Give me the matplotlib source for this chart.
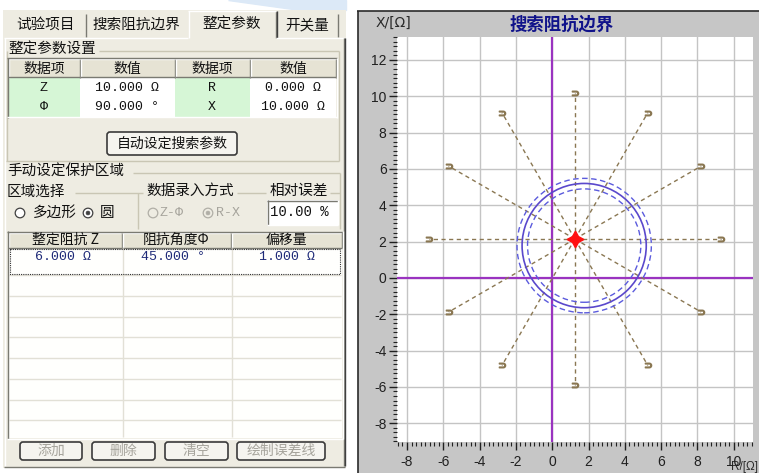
import matplotlib
matplotlib.use('Agg')
import matplotlib.pyplot as plt
import numpy as np
from matplotlib.patches import Rectangle, Circle, FancyBboxPatch
from matplotlib.ticker import MultipleLocator

W, H = 759, 473
CJK = ['Noto Sans CJK SC', 'DejaVu Sans']
MONO = ['Liberation Mono', 'DejaVu Sans Mono']
NUMF = ['Liberation Sans Narrow', 'Liberation Sans', 'DejaVu Sans']
plt.rcParams['font.family'] = CJK

# ---------------- data ----------------
tabs = ['试验项目', '搜索阻抗边界', '整定参数', '开关量']
param_headers = ['数据项', '数值', '数据项', '数值']
param_names_left = ['Z', 'Φ']
param_values_left = ['10.000 Ω', '90.000 °']
param_names_right = ['R', 'X']
param_values_right = ['0.000 Ω', '10.000 Ω']
auto_button = '自动设定搜索参数'
zone_group = '手动设定保护区域'
zone_headers = ['整定阻抗 Z', '阻抗角度Φ', '偏移量']
zone_z = [6.0]
zone_angle = [45.0]
zone_offset = [1.0]
relative_error = 10.00
bottom_buttons = ['添加', '删除', '清空', '绘制误差线']

chart_title = '搜索阻抗边界'
x_ticks = [-8, -6, -4, -2, 0, 2, 4, 6, 8, 10]
y_ticks = [-8, -6, -4, -2, 0, 2, 4, 6, 8, 10, 12]
circle_center = (1.76, 1.78)
circle_radius = 3.42
error_radii = [3.12, 3.70]
search_center = (1.25, 2.14)
search_length = 8.03
search_angles = [0, 30, 60, 90, 120, 150, 180, 210, 240, 270, 300, 330]

# ---------------- colours ----------------
PANEL = '#EEECE2'
HEAD = '#E6E3D4'
GREEN = '#D6F6D6'
DARK = '#7A7A72'
GROUP = '#C9C6B4'
GREYTXT = '#A6A49C'

fig = plt.figure(figsize=(W / 100, H / 100), dpi=100)
fig.patch.set_facecolor('white')
bg = fig.add_axes([0, 0, 1, 1])
bg.set_xlim(0, W)
bg.set_ylim(H, 0)
bg.axis('off')


def rect(x0, y0, x1, y1, fc='none', ec='none', lw=1.0, z=1, ls='-'):
    bg.add_patch(Rectangle((x0, y0), x1 - x0, y1 - y0, facecolor=fc,
                           edgecolor=ec, linewidth=lw, zorder=z, linestyle=ls))


def hl(y, x0, x1, c, lw=1.0, z=3, ls='-'):
    bg.plot([x0, x1], [y, y], color=c, lw=lw, zorder=z, ls=ls, solid_capstyle='butt')


def vl(x, y0, y1, c, lw=1.0, z=3, ls='-'):
    bg.plot([x, x], [y0, y1], color=c, lw=lw, zorder=z, ls=ls, solid_capstyle='butt')


def txt(x, y, s, size=10, color='#111111', ha='center', family=CJK, z=6, va='center', **kw):
    bg.text(x, y, s, fontsize=size, color=color, ha=ha, va=va,
            family=family, zorder=z, **kw)


def raised(x0, y0, x1, y1, z=3):
    hl(y0 + 0.5, x0, x1, 'white', z=z)
    vl(x0 + 0.5, y0, y1, 'white', z=z)
    hl(y1 - 0.5, x0, x1, DARK, z=z)
    vl(x1 - 0.5, y0, y1, DARK, z=z)


def sunken(x0, y0, x1, y1, z=3):
    hl(y0 + 0.5, x0, x1, DARK, z=z)
    vl(x0 + 0.5, y0, y1, DARK, z=z)
    hl(y1 - 0.5, x0, x1, 'white', z=z)
    vl(x1 - 0.5, y0, y1, 'white', z=z)


def button(x0, y0, x1, y1, label, color='#111111'):
    bg.add_patch(FancyBboxPatch((x0, y0), x1 - x0, y1 - y0,
                                boxstyle='round,pad=0,rounding_size=3',
                                facecolor='#F5F4EF', edgecolor='#3A3A3A',
                                linewidth=1.2, zorder=4))
    txt((x0 + x1) / 2, (y0 + y1) / 2, label, size=10, color=color)


# watermark tint
bg.fill([228, 346, 346, 300], [0, 0, 10, 10], color='#DCE9F7', zorder=0)

# ---------------- left panel ----------------
rect(3, 10, 346, 468, fc=PANEL, z=1)
# tabs
tab_x = [(6, 85), (86, 187), (188, 276), (277, 337)]
for (x0, x1), t in zip(tab_x, tabs):
    txt((x0 + x1) / 2, 25, t, size=10.5)
for x in [85.5, 337.5]:
    vl(x, 14, 37, DARK)
vl(188.5, 11, 38, 'white')
vl(275.5, 11, 38, DARK)
vl(276.5, 11, 38, '#404040')
hl(11.5, 188, 276, 'white')
hl(38.5, 4, 188, 'white')
hl(38.5, 276, 344, 'white')
# body border
vl(4.5, 38, 466, 'white')
vl(343.5, 38, 466, DARK)
vl(344.5, 38, 466, '#404040')
hl(466.5, 4, 345, DARK)

# group 1
txt(8, 50, '整定参数设置', size=10.5, ha='left')
hl(51, 99, 339, GROUP)
vl(339, 51, 161, GROUP)
vl(6.5, 51, 161, GROUP)
hl(161, 6, 339, GROUP)

# parameter table
col_edges = [8, 80, 175, 250, 336]
rect(8, 59, 336, 117, fc='white', z=2)
for i in range(4):
    x0, x1 = col_edges[i], col_edges[i + 1]
    rect(x0, 59, x1, 78, fc=HEAD, z=2)
    raised(x0, 59, x1, 78)
    txt((x0 + x1) / 2, 68.5, param_headers[i], size=10)
    if i in (0, 2):
        rect(x0, 78, x1, 117, fc=GREEN, z=2)
sunken(7, 58, 337, 118, z=4)
rows_y = [88, 107]
for j, y in enumerate(rows_y):
    txt(44, y, param_names_left[j], size=9.5, family=MONO)
    txt(127, y, param_values_left[j], size=9.5, family=MONO)
    txt(212, y, param_names_right[j], size=9.5, family=MONO)
    txt(293, y, param_values_right[j], size=9.5, family=MONO)

button(107, 132, 237, 155, auto_button)

# group 2
txt(7, 172, zone_group, size=10.5, ha='left')
hl(173, 133, 340, GROUP)
vl(340, 173, 229, GROUP)
txt(7, 192, '区域选择', size=10.5, ha='left')
hl(193, 75, 143, GROUP)
vl(138, 193, 229, GROUP)
txt(190, 191, '数据录入方式', size=10.5)
hl(193, 237, 266, GROUP)
txt(298.5, 191, '相对误差', size=10.5)
hl(193, 330, 340, GROUP)


def radio(x, y, on, col='#404040', fc='white'):
    bg.add_patch(Circle((x, y), 4.8, facecolor=fc, edgecolor=col, lw=0.9, zorder=4))
    if on:
        bg.add_patch(Circle((x, y), 1.9, facecolor=col, edgecolor=col, lw=0.5, zorder=5))


radio(20, 213, False)
txt(33, 213, '多边形', size=10.5, ha='left')
radio(88, 213, True)
txt(100, 213, '圆', size=10.5, ha='left')
radio(153, 213, False, col='#B0AEA6', fc=PANEL)
txt(160, 213, 'Z-Φ', size=9.5, ha='left', family=MONO, color=GREYTXT)
radio(208, 213, True, col='#B0AEA6', fc=PANEL)
txt(216, 213, 'R-X', size=9.5, ha='left', family=MONO, color=GREYTXT)
rect(267, 200, 338, 225, fc='white', z=2)
sunken(267, 200, 338, 225)
txt(270, 212, f'{relative_error:.2f} %', size=10, ha='left', family=MONO)

# zone table
zcols = [8, 122, 231, 342]
rect(8, 232, 342, 438, fc='#FFFFFD', z=2)
for i in range(3):
    x0, x1 = zcols[i], zcols[i + 1]
    rect(x0, 232, x1, 248, fc=HEAD, z=2)
    raised(x0, 232, x1, 248)
    txt((x0 + x1) / 2, 240, zone_headers[i], size=10)
for k in range(8):
    hl(275 + k * 20.75, 9, 341, '#E2E0D6', z=3)
for x in [123, 232]:
    vl(x, 248, 437, '#E2E0D6', z=3)
sunken(7, 231, 343, 439, z=4)
rect(10, 249, 340, 274, ec='#303030', lw=0.8, z=4, ls=(0, (1, 1)))
row_texts = [f'{zone_z[0]:.3f} Ω', f'{zone_angle[0]:.3f} °', f'{zone_offset[0]:.3f} Ω']
for x, s in zip([63, 173, 287], row_texts):
    txt(x, 257, s, size=9.5, family=MONO, color='#1E2A78')

for (x0, x1), b in zip([(20, 82), (92, 155), (165, 228), (237, 325)], bottom_buttons):
    button(x0, 442, x1, 460, b, color=GREYTXT)

# ---------------- chart panel ----------------
rect(358, 11, 760, 474, fc='#C6C6C6', z=1)
vl(357.5, 11, 473, '#2A2A2A', lw=1.2)
hl(11.5, 357, 759, '#2A2A2A', lw=1.2)
txt(376, 23, 'X/[Ω]', size=10, ha='left', family=['DejaVu Sans'], color='#2A2A2A')
txt(562, 25, chart_title, size=12.5, color='#10138A', fontweight='bold')
txt(731, 473, 'R/[Ω]', size=8.5, ha='left', va='bottom', family=NUMF, color='#2A2A2A')

ax = fig.add_axes([397 / W, 1 - 442 / H, (753 - 397) / W, (442 - 37) / H])
ax.set_zorder(5)
ax.set_facecolor('white')
ax.set_xlim(-8.55, 11.06)
ax.set_ylim(-9.03, 13.26)
ax.set_xticks(x_ticks)
ax.set_yticks(y_ticks)
ax.set_xticklabels([str(t) for t in x_ticks], family=NUMF, fontsize=10, color='#202020')
ax.set_yticklabels([str(t) for t in y_ticks], family=NUMF, fontsize=10, color='#202020')
ax.xaxis.set_minor_locator(MultipleLocator(0.25))
ax.yaxis.set_minor_locator(MultipleLocator(0.25))
ax.tick_params(which='major', direction='out', length=6, width=1, color='#202020', pad=1.5)
ax.tick_params(which='minor', direction='out', length=3, width=0.8, color='#202020')
ax.tick_params(axis='x', which='major', pad=3)
for s in ax.spines.values():
    s.set_visible(False)
ax.grid(True, which='major', color='#C4C4C4', lw=1)
ax.set_axisbelow(True)

AXC = '#9A33C0'
ax.axvline(0, color=AXC, lw=1.6, zorder=2)
ax.axhline(0, color=AXC, lw=1.6, zorder=2)

SC = '#8A7752'
sx, sy = search_center
for a in search_angles:
    ex = sx + search_length * np.cos(np.radians(a))
    ey = sy + search_length * np.sin(np.radians(a))
    ax.plot([sx, ex], [sy, ey], color=SC, lw=1, ls=(0, (3, 2.5)), zorder=3)
    ax.plot([ex], [ey], marker='$\\supset$', ms=4.5, color=SC, zorder=3)

ax.add_patch(Circle(circle_center, circle_radius, fill=False, ec='#5A48CC', lw=1.2, zorder=4))
for r in error_radii:
    ax.add_patch(Circle(circle_center, r, fill=False, ec='#5B5BDD', lw=1, ls=(0, (4, 2.5)), zorder=4))

ax.plot([sx], [sy], marker=(4, 1, 0), ms=12, color='#FF1010', mec='#FF1010', zorder=6)

fig.savefig('out.png', dpi=100, facecolor='white')
